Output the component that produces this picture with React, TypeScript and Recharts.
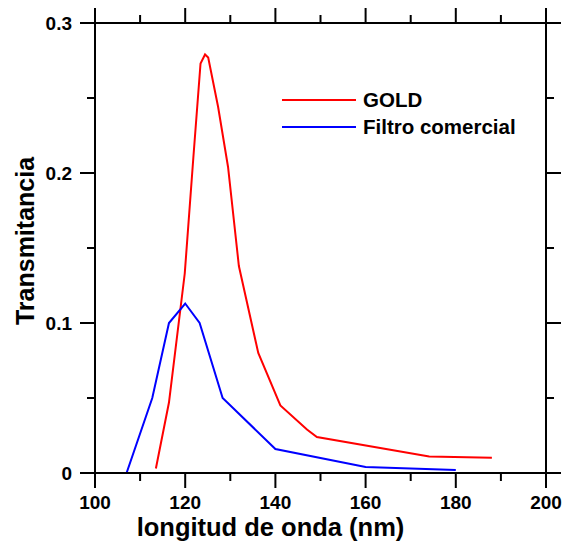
import React from "react";
import { LineChart, Line, XAxis, YAxis, Legend, Label } from "recharts";

const goldX = [113.5, 116.4, 119.9, 121.8, 123.4, 124.4, 125.1, 127.3, 129.5, 131.9, 136.2, 141.1, 147.0, 149.2, 174.1, 188.0];
const goldY = [0.003, 0.047, 0.133, 0.21, 0.273, 0.279, 0.277, 0.244, 0.204, 0.138, 0.08, 0.045, 0.029, 0.024, 0.011, 0.0102];

const filtroX = [107.0, 112.7, 116.4, 120.0, 123.2, 128.3, 140.0, 160.0, 180.0];
const filtroY = [0.0, 0.05, 0.1, 0.113, 0.1, 0.05, 0.016, 0.004, 0.002];

const xTicks = [100, 110, 120, 130, 140, 150, 160, 170, 180, 190, 200];
const xMajor = [100, 120, 140, 160, 180, 200];
const yTicks = [0, 0.05, 0.1, 0.15, 0.2, 0.25, 0.3];
const yMajor = [0, 0.1, 0.2, 0.3];
const yLabels = ["0", "0.1", "0.2", "0.3"];

const goldData = goldX.map((x, i) => ({ x, y: goldY[i] }));
const filtroData = filtroX.map((x, i) => ({ x, y: filtroY[i] }));

const FONT = "'Liberation Sans', Arial, Helvetica, sans-serif";
const MAJOR = 15;
const MINOR = 8;

const isMajorX = (v: number) => xMajor.includes(v);
const isMajorY = (v: number) => yMajor.some((m) => Math.abs(m - v) < 1e-9);

function BottomTick(p: any) {
  const v = p.payload.value;
  const major = isMajorX(v);
  const x = Number(p.x);
  const y = Number(p.y);
  const len = major ? MAJOR : MINOR;
  return (
    <g>
      <path d={`M${x},${y}L${x},${y + len}`} stroke="#000000" strokeWidth={2} fill="none" />
      {major && (
        <text x={x} y={y + 36} textAnchor="middle" fontFamily={FONT} fontWeight="bold" fontSize={19} fill="#000">
          {v}
        </text>
      )}
    </g>
  );
}

function TopTick(p: any) {
  const major = isMajorX(p.payload.value);
  const x = Number(p.x);
  const y = Number(p.y);
  const len = major ? MAJOR : MINOR;
  return (
    <g>
      <path d={`M${x},${y}L${x},${y - len}`} stroke="#000000" strokeWidth={2} fill="none" />
    </g>
  );
}

function LeftTick(p: any) {
  const v = p.payload.value;
  const major = isMajorY(v);
  const idx = yMajor.findIndex((m) => Math.abs(m - v) < 1e-9);
  const x = Number(p.x);
  const y = Number(p.y);
  const len = major ? MAJOR : MINOR;
  return (
    <g>
      <path d={`M${x - len},${y}L${x},${y}`} stroke="#000000" strokeWidth={2} fill="none" />
      {major && (
        <text x={x - 23} y={y + 6.5} textAnchor="end" fontFamily={FONT} fontWeight="bold" fontSize={19} fill="#000">
          {yLabels[idx]}
        </text>
      )}
    </g>
  );
}

function RightTick(p: any) {
  const major = isMajorY(p.payload.value);
  const x = Number(p.x);
  const y = Number(p.y);
  const len = major ? MAJOR : MINOR;
  return (
    <g>
      <path d={`M${x},${y}L${x + len},${y}`} stroke="#000000" strokeWidth={2} fill="none" />
    </g>
  );
}

const legendItems = [
  { name: "GOLD", color: "#ff0000" },
  { name: "Filtro comercial", color: "#0000ff" },
];

const LegendContent = () => (
  <div style={{ fontFamily: FONT, fontWeight: "bold", fontSize: 20.5, color: "#000" }}>
    {legendItems.map((it) => (
      <div key={it.name} style={{ display: "flex", alignItems: "center", height: 27 }}>
        <svg width={74} height={4} style={{ marginRight: 7 }}>
          <line x1={0} x2={74} y1={2} y2={2} stroke={it.color} strokeWidth={2} />
        </svg>
        <span>{it.name}</span>
      </div>
    ))}
  </div>
);

const axisLineStyle = { stroke: "#000000", strokeWidth: 2 };

export default function App() {
  return (
    <div style={{ position: "absolute", left: 0, top: 0 }}>
      <LineChart width={569} height={544} margin={{ top: 22, right: 22, bottom: 11, left: 15 }}>
        <XAxis
          xAxisId="b"
          type="number"
          dataKey="x"
          domain={[100, 200]}
          ticks={xTicks}
          interval={0}
          height={60}
          tickSize={0}
          tickMargin={0}
          tickLine={false}
          axisLine={axisLineStyle}
          stroke="#000000"
          tick={BottomTick}
          allowDataOverflow
        >
          <Label
            content={(props: any) => {
              const vb = props.viewBox;
              return (
                <text x={vb.x + vb.width / 2 - 50} y={vb.y + 63} textAnchor="middle" fontFamily={FONT} fontWeight="bold" fontSize={25.5} fill="#000">
                  longitud de onda (nm)
                </text>
              );
            }}
          />
        </XAxis>
        <XAxis
          xAxisId="t"
          orientation="top"
          type="number"
          dataKey="x"
          domain={[100, 200]}
          ticks={xTicks}
          interval={0}
          height={1}
          tickSize={0}
          tickMargin={0}
          tickLine={false}
          axisLine={axisLineStyle}
          stroke="#000000"
          tick={TopTick}
          allowDataOverflow
        />
        <YAxis
          yAxisId="l"
          type="number"
          domain={[0, 0.3]}
          ticks={yTicks}
          interval={0}
          width={80}
          tickSize={0}
          tickMargin={0}
          tickLine={false}
          axisLine={axisLineStyle}
          stroke="#000000"
          tick={LeftTick}
          allowDataOverflow
        >
          <Label
            content={(props: any) => {
              const vb = props.viewBox;
              const cx = vb.x + 10;
              const cy = vb.y + vb.height / 2 - 7;
              return (
                <text x={cx} y={cy} transform={`rotate(-90 ${cx} ${cy})`} textAnchor="middle" dominantBaseline="central" fontFamily={FONT} fontWeight="bold" fontSize={25} fill="#000">
                  Transmitancia
                </text>
              );
            }}
          />
        </YAxis>
        <YAxis
          yAxisId="r"
          orientation="right"
          type="number"
          domain={[0, 0.3]}
          ticks={yTicks}
          interval={0}
          width={1}
          tickSize={0}
          tickMargin={0}
          tickLine={false}
          axisLine={axisLineStyle}
          stroke="#000000"
          tick={RightTick}
          allowDataOverflow
        />
        <Legend
          layout="vertical"
          align="center"
          verticalAlign="middle"
          wrapperStyle={{ position: "absolute", left: 282, top: 86, width: 270 }}
          content={<LegendContent />}
        />
        <Line
          xAxisId="b"
          yAxisId="l"
          data={goldData}
          dataKey="y"
          name="GOLD"
          stroke="#ff0000"
          strokeWidth={2}
          dot={false}
          activeDot={false}
          type="linear"
          isAnimationActive={false}
        />
        <Line
          xAxisId="b"
          yAxisId="l"
          data={filtroData}
          dataKey="y"
          name="Filtro comercial"
          stroke="#0000ff"
          strokeWidth={2}
          dot={false}
          activeDot={false}
          type="linear"
          isAnimationActive={false}
        />
      </LineChart>
    </div>
  );
}
